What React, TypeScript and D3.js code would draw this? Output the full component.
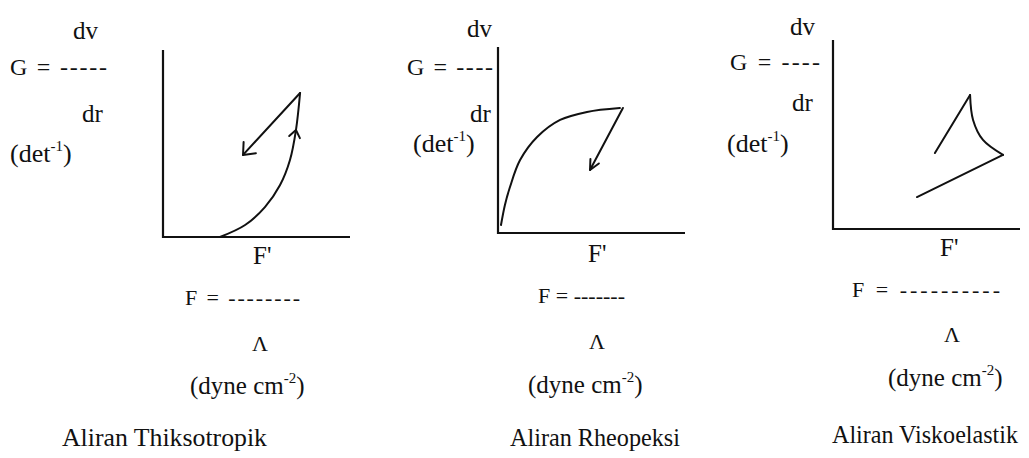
import React from "react";
import * as d3 from "d3";

// ---- data (unit coordinates inside each panel, 0..10 on both axes) ----
const titles = ["Aliran Thiksotropik", "Aliran Rheopeksi", "Aliran Viskoelastik"];
const yLabelDv = "dv";
const yLabelDr = "dr";
const xLabelAxis = "F'";
const xUnitSymbol = "\u039B";

const thixoUp: [number, number][] = [
  [3.05, 0], [4.39, 0.64], [5.45, 1.6], [6.26, 2.78], [6.79, 4.12], [7.11, 5.72], [7.33, 7.7],
];
const thixoDown: [number, number][] = [[7.33, 7.7], [4.28, 4.39]];

const rheoCurve: [number, number][] = [
  [0.16, 0.43], [0.37, 1.51], [0.64, 2.47], [1.18, 3.92], [2.09, 5.16], [3.32, 6.08], [4.76, 6.51], [6.52, 6.72],
];
const rheoLine: [number, number][] = [[6.68, 6.72], [4.92, 3.39]];

const viscoRise: [number, number][] = [[5.45, 4.02], [7.33, 7.09]];
const viscoFall: [number, number][] = [[7.33, 7.09], [7.49, 5.77], [8.02, 4.71], [9.09, 3.92]];
const viscoReturn: [number, number][] = [[9.09, 3.92], [4.49, 1.69]];

// ---- layout ----
const FONT = "'Liberation Serif', 'Times New Roman', 'DejaVu Serif', serif";
const INK = "#111";

type Panel = {
  x0: number; x1: number; y0: number; y1: number;
  dv: [number, number]; g: [number, number, number]; gText: string; dr: [number, number]; det: [number, number];
  fAxis: [number, number]; fRow: [number, number, number]; fText: string; lam: [number, number];
  dyne: [number, number]; title: [number, number, number];
};

const panels: Panel[] = [
  {
    x0: 163, x1: 350, y0: 237, y1: 50,
    dv: [73, 39], g: [10, 75, 97], gText: "G = -----", dr: [82, 122], det: [10, 162],
    fAxis: [253, 264], fRow: [185, 305, 115], fText: "F = --------", lam: [260, 351],
    dyne: [190, 394], title: [62, 446, 205],
  },
  {
    x0: 498, x1: 685, y0: 233, y1: 47,
    dv: [467, 37], g: [407, 75, 86], gText: "G = ----", dr: [470, 122], det: [413, 152],
    fAxis: [588, 262], fRow: [538, 303, 87], fText: "F = -------", lam: [597, 349],
    dyne: [528, 393], title: [510, 446, 170],
  },
  {
    x0: 833, x1: 1020, y0: 229, y1: 40,
    dv: [790, 35], g: [730, 70, 90], gText: "G = ----", dr: [792, 111], det: [727, 152],
    fAxis: [940, 256], fRow: [852, 297, 148], fText: "F = ----------", lam: [952, 342],
    dyne: [888, 386], title: [832, 443, 186],
  },
];

function scalesFor(p: Panel) {
  const x = d3.scaleLinear().domain([0, 10]).range([p.x0, p.x1]);
  const y = d3.scaleLinear().domain([0, 10]).range([p.y0, p.y1]);
  return { x, y };
}

function chevron(tip: [number, number], from: [number, number], len: number, spread: number) {
  const ang = Math.atan2(from[1] - tip[1], from[0] - tip[0]);
  const a1 = ang + spread, a2 = ang - spread;
  const p1 = [tip[0] + len * Math.cos(a1), tip[1] + len * Math.sin(a1)];
  const p2 = [tip[0] + len * Math.cos(a2), tip[1] + len * Math.sin(a2)];
  return `M${p1[0]},${p1[1]}L${tip[0]},${tip[1]}L${p2[0]},${p2[1]}`;
}

const tStyle = { fontFamily: FONT };

function Labels({ p, i }: { p: Panel; i: number }) {
  return (
    <g fill={INK}>
      <text style={tStyle} x={p.dv[0]} y={p.dv[1]} fontSize={25}>{yLabelDv}</text>
      <text style={tStyle} x={p.g[0]} y={p.g[1]} fontSize={24} textLength={p.g[2]} lengthAdjust="spacing">{p.gText}</text>
      <text style={tStyle} x={p.dr[0]} y={p.dr[1]} fontSize={25}>{yLabelDr}</text>
      <text style={tStyle} x={p.det[0]} y={p.det[1]} fontSize={26}>
        (det<tspan dy={-11} fontSize={15}>-1</tspan><tspan dy={11}>)</tspan>
      </text>
      <text style={tStyle} x={p.fAxis[0]} y={p.fAxis[1]} fontSize={25}>{xLabelAxis}</text>
      <text style={tStyle} x={p.fRow[0]} y={p.fRow[1]} fontSize={22} textLength={p.fRow[2]} lengthAdjust="spacing">{p.fText}</text>
      <text style={tStyle} x={p.lam[0]} y={p.lam[1]} fontSize={22} textAnchor="middle">{xUnitSymbol}</text>
      <text style={tStyle} x={p.dyne[0]} y={p.dyne[1]} fontSize={25}>
        (dyne cm<tspan dy={-11} fontSize={15}>-2</tspan><tspan dy={11}>)</tspan>
      </text>
      <text style={tStyle} x={p.title[0]} y={p.title[1]} fontSize={25} textLength={p.title[2]} lengthAdjust="spacingAndGlyphs">{titles[i]}</text>
    </g>
  );
}

export default function App() {
  const straight = d3.line<[number, number]>();
  const lineStyle = { fill: "none", stroke: INK, strokeWidth: 2, strokeLinecap: "round" as const, strokeLinejoin: "round" as const };

  const s = panels.map(scalesFor);
  const px = (k: number, d: [number, number]): [number, number] => [s[k].x(d[0]), s[k].y(d[1])];
  const curveLine = (k: number) =>
    d3.line<[number, number]>().x((d) => s[k].x(d[0])).y((d) => s[k].y(d[1])).curve(d3.curveCatmullRom.alpha(0.5));
  const linLine = (k: number) =>
    d3.line<[number, number]>().x((d) => s[k].x(d[0])).y((d) => s[k].y(d[1]));

  return (
    <svg width={1029} height={458} style={{ position: "absolute", left: 0, top: 0, background: "#fff" }}>
      <rect width={1029} height={458} fill="#fff" />
      {panels.map((p, i) => (
        <g key={i}>
          <path d={straight([[p.x0, p.y1], [p.x0, p.y0], [p.x1, p.y0]])!} fill="none" stroke={INK} strokeWidth={2.2} />
          <Labels p={p} i={i} />
        </g>
      ))}

      {/* Thiksotropik */}
      <path d={curveLine(0)(thixoUp)!} {...lineStyle} />
      <path d={linLine(0)(thixoDown)!} {...lineStyle} />
      <path d={chevron(px(0, thixoDown[1]), px(0, thixoDown[0]), 13, 0.7)} {...lineStyle} />
      <path d={chevron(px(0, thixoUp[5]), px(0, thixoUp[4]), 9, 0.65)} {...lineStyle} />

      {/* Rheopeksi */}
      <path d={curveLine(1)(rheoCurve)!} {...lineStyle} />
      <path d={linLine(1)(rheoLine)!} {...lineStyle} />
      <path d={chevron(px(1, rheoLine[1]), px(1, rheoLine[0]), 11, 0.45)} {...lineStyle} />

      {/* Viskoelastik */}
      <path d={linLine(2)(viscoRise)!} {...lineStyle} />
      <path d={curveLine(2)(viscoFall)!} {...lineStyle} />
      <path d={linLine(2)(viscoReturn)!} {...lineStyle} />
    </svg>
  );
}
